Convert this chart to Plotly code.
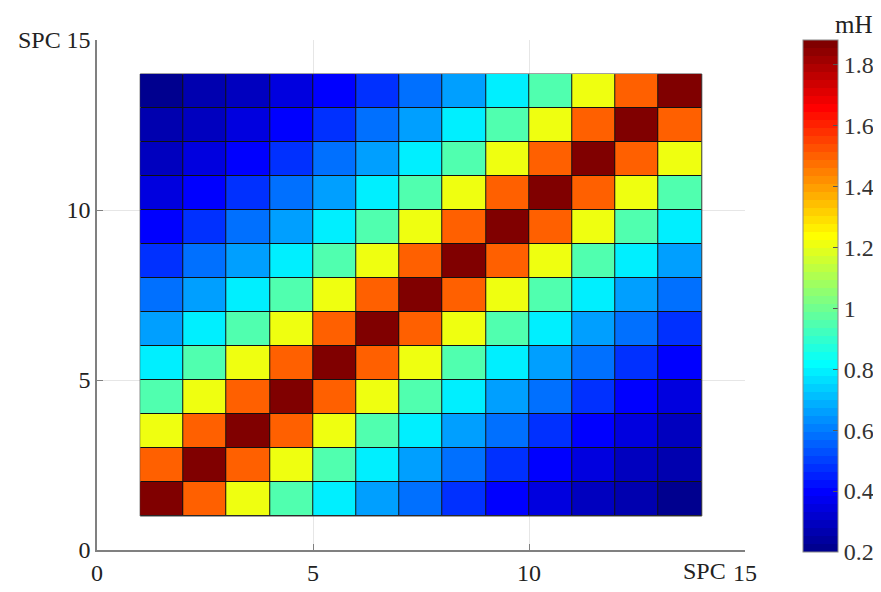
import numpy as np
import plotly.graph_objects as go

# ---- data ----
n_cells = 13
x_edges = list(range(1, 15))          # 1..14
y_edges = list(range(1, 15))
# value as a function of distance from diagonal |i-j|
diag_values = [1.88, 1.51, 1.20, 0.96, 0.80, 0.67, 0.575, 0.48, 0.41, 0.34, 0.30, 0.26, 0.22]
axis_ticks = [0, 5, 10, 15]
cbar_ticks = [0.2, 0.4, 0.6, 0.8, 1.0, 1.2, 1.4, 1.6, 1.8]
cbar_ticktext = ["0.2", "0.4", "0.6", "0.8", "1", "1.2", "1.4", "1.6", "1.8"]
zmin, zmax = 0.2, 1.88

z = [[diag_values[abs(i - j)] for j in range(n_cells)] for i in range(n_cells)]
x_centers = [(x_edges[k] + x_edges[k + 1]) / 2 for k in range(n_cells)]
y_centers = [(y_edges[k] + y_edges[k + 1]) / 2 for k in range(n_cells)]

# ---- MATLAB jet(64) as stepped colorscale ----
def jet(m):
    n = int(np.ceil(m / 4))
    u = np.concatenate([np.arange(1, n + 1) / n, np.ones(n - 1), np.arange(n, 0, -1) / n])
    g = int(np.ceil(n / 2)) - (1 if m % 4 == 1 else 0) + np.arange(1, len(u) + 1)
    r = g + n
    b = g - n
    J = np.zeros((m, 3))
    for idx, val in zip(r, u):
        if 1 <= idx <= m:
            J[idx - 1, 0] = val
    for idx, val in zip(g, u):
        if 1 <= idx <= m:
            J[idx - 1, 1] = val
    for idx, val in zip(b, u):
        if 1 <= idx <= m:
            J[idx - 1, 2] = val
    return J

J = jet(64)
cs = []
for i in range(64):
    c = "rgb(%d,%d,%d)" % tuple(int(round(v * 255)) for v in J[i])
    cs.append([i / 64, c])
    cs.append([(i + 1) / 64, c])

font_family = "Liberation Serif, Times New Roman, serif"
fs = 24

fig = go.Figure()
fig.add_trace(go.Heatmap(
    x=x_centers, y=y_centers, z=z,
    zmin=zmin, zmax=zmax, colorscale=cs,
    xgap=1, ygap=1,
    colorbar=dict(
        tickvals=cbar_ticks, ticktext=cbar_ticktext,
        ticks="inside", ticklen=5, tickcolor="#555",
        outlinecolor="#888", outlinewidth=1,
        thickness=35, thicknessmode="pixels",
        len=512, lenmode="pixels",
        x=1.0895, xanchor="left", y=0.498, yanchor="middle",
        tickfont=dict(family=font_family, size=fs, color="#333"),
        xpad=0, ypad=0,
    ),
))

# black cell edges: dark rectangle under heatmap (gaps reveal it)
fig.add_shape(type="rect", layer="between",
              x0=x_edges[0], x1=x_edges[-1], y0=y_edges[0], y1=y_edges[-1],
              fillcolor="#111111", line=dict(color="#444", width=1))

axis_common = dict(
    range=[0, 15], tickvals=axis_ticks, ticktext=[str(t) for t in axis_ticks],
    showgrid=True, gridcolor="#e6e6e6", gridwidth=1,
    showline=True, linecolor="#808080", linewidth=1.5,
    ticks="inside", ticklen=6, tickcolor="#808080",
    zeroline=False,
    tickfont=dict(family=font_family, size=fs, color="#222"),
)
fig.update_xaxes(**axis_common)
fig.update_yaxes(**axis_common)

fig.add_annotation(text="SPC", xref="paper", yref="paper", x=-0.052, y=1.0,
                   xanchor="right", yanchor="middle", showarrow=False,
                   font=dict(family=font_family, size=fs, color="#222"))
fig.add_annotation(text="SPC", x=14.6, y=0, xref="x", yref="paper",
                   xanchor="right", yanchor="top", yshift=-6, showarrow=False,
                   font=dict(family=font_family, size=fs, color="#222"))
fig.add_annotation(text="mH", xref="paper", yref="paper", x=1.168, y=1.06,
                   xanchor="center", yanchor="top", showarrow=False,
                   font=dict(family=font_family, size=25, color="#222"))

# page body has an 8px margin, so offset plot margins accordingly
fig.update_layout(
    width=881, height=592,
    margin=dict(l=89, r=144, t=32, b=50, autoexpand=False),
    plot_bgcolor="white", paper_bgcolor="white",
    font=dict(family=font_family),
    showlegend=False,
)

fig.write_html("out.html")
